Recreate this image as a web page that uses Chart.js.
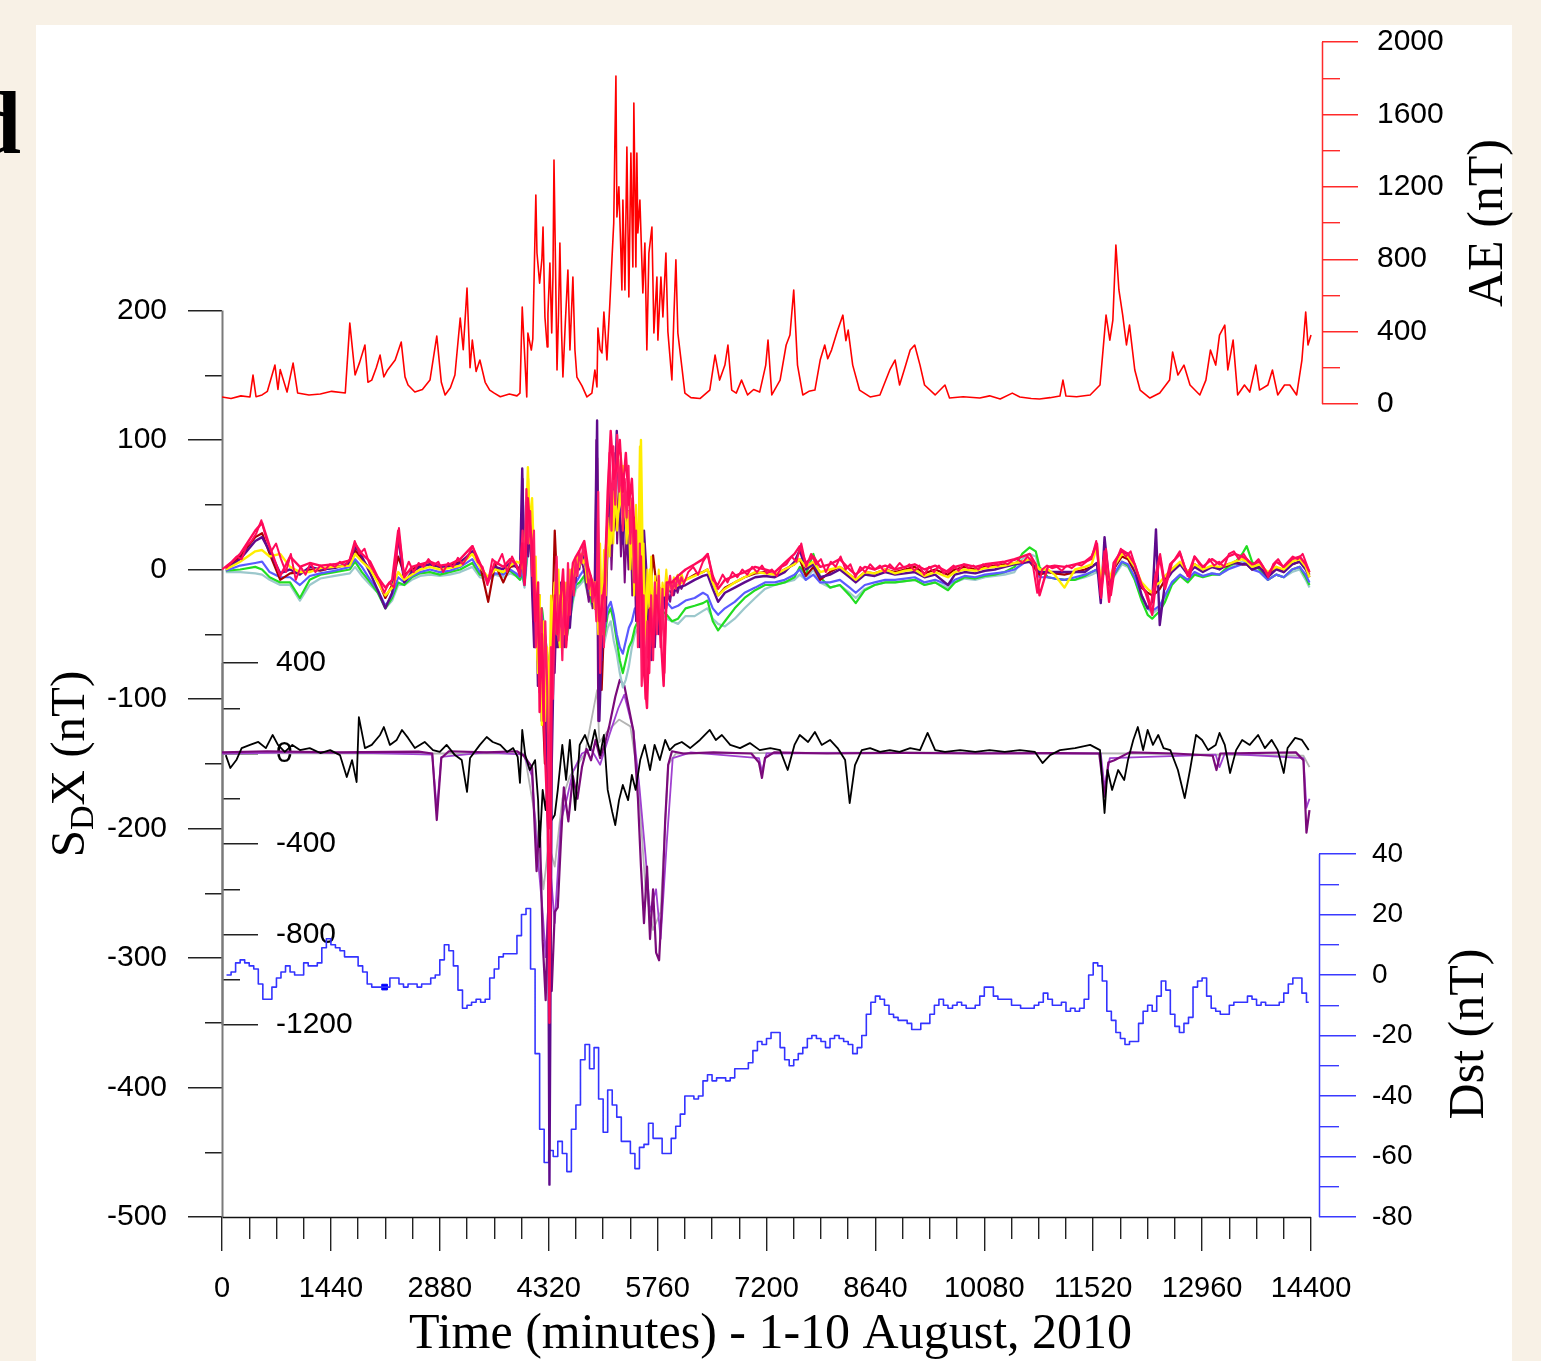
<!DOCTYPE html>
<html><head><meta charset="utf-8">
<script src="https://cdn.jsdelivr.net/npm/chart.js@4.4.1/dist/chart.umd.min.js"></script>
<style>html,body{margin:0;padding:0;background:#f8f1e6;}canvas{display:block;}</style>
</head><body>
<canvas id="c" width="1541" height="1361"></canvas>
<script>
// ---------------- tick labels ----------------
const timeTickLabels = [0,1440,2880,4320,5760,7200,8640,10080,11520,12960,14400];
const sdxTickLabels = [200,100,0,-100,-200,-300,-400,-500];
const lowTickLabels = [400,0,-400,-800,-1200];
const aeTickLabels = [0,400,800,1200,1600,2000];
const dstTickLabels = [40,20,0,-20,-40,-60,-80];

// ---------------- AE index (nT) ----------------
const aeTime = [0,120,250,370,410,450,530,600,700,740,770,860,940,1000,1150,1300,1450,1630,1690,1760,1820,1890,1930,1980,2040,2090,2140,2190,2290,2370,2420,2460,2550,2650,2750,2840,2900,2950,3020,3080,3150,3190,3240,3280,3310,3360,3410,3480,3540,3600,
3680,3800,3900,3940,3970,3990,4030,4045,4090,4110,4150,4165,4200,4230,4245,4270,4300,4310,4336,4360,4376,4390,4415,4430,4450,4468,4490,4508,4540,4574,4601,4640,4667,4693,4760,4825,4891,4931,4958,4971,5000,5024,5050,5090,5129,5156,5180,5195,5209,5222,5248,5270,5288,5301,5328,5354,5380,5407,5433,5446,5473,5486,5499,5526,5565,5592,5618,5645,5685,5711,5751,5764,5804,5830,5870,5896,5949,5975,6002,6028,6081,6121,6200,6320,
6450,6520,6580,6650,6690,6740,6800,6870,6950,7030,7110,7190,7220,7270,7380,7460,7510,7560,7610,7680,7760,7840,7910,7970,8010,8060,8140,8210,8250,8280,8340,8430,8570,8700,8830,8900,8960,9030,9100,9160,9230,9290,9430,9560,9620,9800,10020,10150,10290,10450,10550,10700,10810,10950,11080,11120,11160,11300,11480,11610,11650,11690,11740,11780,11820,11860,11910,11960,12000,12070,12140,12270,12400,12530,12570,12640,12720,12800,12930,13010,13070,13140,13190,13260,13300,13370,13430,13520,13590,13670,13720,13830,13890,13960,14050,14120,14210,14280,14330,14360,14400];
const aeValue = [39,30,45,39,160,40,50,70,215,80,190,66,226,61,50,55,70,61,447,160,230,326,120,132,200,270,150,188,243,342,150,105,66,80,132,375,120,50,90,160,475,300,640,200,353,180,243,120,77,60,
40,55,45,60,536,370,39,392,298,360,1155,834,668,800,978,481,315,500,779,392,700,1348,613,188,500,889,400,149,450,740,298,702,298,149,100,39,60,188,94,420,300,282,508,243,558,796,1000,1442,1812,1033,1200,900,630,1127,630,1420,591,1387,757,1663,757,1387,945,1127,613,889,298,834,978,392,702,353,702,481,834,400,133,480,796,392,204,60,35,30,
77,270,132,215,326,77,60,132,50,80,66,215,353,50,132,326,381,630,215,50,70,77,243,326,250,298,408,491,350,408,215,77,39,50,188,243,105,200,298,326,215,105,50,105,33,40,33,45,28,60,39,30,28,35,44,132,44,40,50,105,298,491,353,464,878,630,491,326,436,188,77,33,61,132,287,160,215,105,50,132,298,215,381,436,188,353,50,105,66,215,77,105,188,50,105,105,50,243,508,326,381];

// ---------------- Dst index (nT), hourly steps ----------------
const dstTime = [60,120,180,240,300,360,420,480,540,660,720,780,840,900,960,1080,1140,1260,1320,1380,1440,1500,1560,1620,1800,1860,1920,1980,2220,2340,2400,2460,2580,2640,2760,2820,2880,2940,3000,3060,3120,3180,3240,3300,3360,3420,3480,3540,3600,3660,3720,3900,3960,4020,4080,4140,4200,4260,4320,4380,4440,4500,4560,4620,4680,4740,4800,4860,4920,4980,5040,5100,5160,5220,5280,5400,5460,5520,5580,5640,5700,5820,5940,6000,6060,6120,6240,6300,6360,6420,6480,6540,6660,6720,6780,6960,7020,7080,7140,7200,7260,7380,7440,7500,7560,7620,7680,7740,7800,7860,7920,7980,8040,8100,8160,8220,8280,8340,8400,8460,8520,8580,8640,8700,8760,8820,8880,8940,9060,9120,9240,9360,9420,9480,9540,9600,9660,9720,9780,9840,9960,10020,10080,10200,10260,10440,10560,10740,10800,10860,10920,10980,11100,11160,11220,11280,11340,11400,11460,11520,11580,11640,11700,11760,11820,11880,11940,12000,12120,12180,12240,12300,12360,12420,12480,12540,12600,12660,12720,12780,12840,12900,12960,13020,13080,13140,13200,13320,13380,13560,13620,13680,13740,13800,13980,14040,14100,14160,14280,14340,14370];
const dstValue = [0,1,4,5,4,3,2,-3,-8,-4,-1,1,3,1,0,4,3,4,9,12,10,9,8,6,3,1,-3,-4,-1,-3,-4,-3,-4,-3,-1,0,5,10,8,3,-5,-11,-10,-9,-8,-9,-8,-1,2,6,7,13,20,22,2,-26,-51,-62,-58,-60,-55,-59,-65,-51,-43,-28,-23,-31,-24,-41,-52,-38,-43,-47,-55,-59,-64,-57,-56,-49,-54,-59,-54,-50,-46,-40,-41,-40,-35,-33,-35,-34,-35,-34,-31,-29,-25,-22,-23,-21,-19,-24,-28,-30,-28,-26,-24,-21,-20,-21,-22,-24,-21,-20,-21,-22,-23,-26,-24,-20,-13,-9,-7,-8,-10,-13,-14,-15,-16,-18,-16,-13,-10,-8,-10,-11,-10,-9,-10,-11,-10,-7,-4,-7,-8,-10,-11,-10,-9,-6,-8,-10,-9,-12,-11,-12,-11,-8,0,4,3,-2,-12,-15,-19,-21,-23,-22,-16,-12,-10,-12,-7,-2,-5,-13,-17,-19,-16,-14,-4,-2,-1,-7,-11,-12,-13,-10,-9,-7,-8,-10,-9,-10,-9,-6,-3,-1,-6,-9,-9];
const dstMarkTime = [2150];
const dstMarkValue = [-4];

// ---------------- SDX station traces (nT, left axis) ----------------
const sdxTime = [50,240,440,530,630,770,900,1030,1160,1300,1490,1690,1760,1850,1960,2060,2160,2250,2330,2410,2510,2620,2750,2880,3010,3150,3310,3410,3520,3610,3720,3810,3890,3940,3970,4000,4045,4070,4100,4140,4180,4200,4230,4270,4310,4330,4360,4400,4430,4470,4510,4550,4600,4640,4680,4730,4790,4840,4890,4930,4960,4990,5020,5060,5100,5140,5180,5220,5260,5300,5340,5380,5420,5460,5500,5540,5580,5620,5660,5700,5740,5790,5840,5880,5950,6030,6130,6250,6360,6420,6490,6560,6650,6780,6910,7050,7180,7310,7440,7570,7640,7720,7820,7910,8040,8170,8300,8380,8500,8630,8770,8900,9030,9160,9290,9430,9600,9690,9820,9960,10090,10220,10350,10480,10580,10680,10760,10810,10920,11010,11140,11280,11410,11500,11570,11620,11670,11730,11790,11900,11980,12070,12160,12240,12300,12350,12400,12470,12560,12670,12770,12860,12970,13090,13190,13300,13390,13490,13550,13620,13720,13830,13940,14040,14150,14250,14330,14380];
const sdxCrimson = [1,12,30,36,18,-5,10,2,5,3, 4,7,20,12,6,-6,-14,-8,30,-6, 2,4,6,3,4,8,18,5,-10,6, 2,8,4,-5,20,-12,55,35,20,-40, -10,-110,-50,-140,-200,-350,-80,-20,-50,-30, 0,-60,-20,5,10,15,22,2,-8,-20, -10,-40,-30,-10,60,107,70,80,100,60, 90,50,70,20,-40,10,-80,-107,-30,-60, -20,-40,-90,-10,-10,-5,0,4,8,12, -5,-15,-8,-5,-2,2,0,-2,5,12, 18,5,10,2,4,8,0,-4,2,0, 3,0,2,4,0,3,-2,2,4,2, 4,5,6,8,10,12,4,-20,2,3, 2,4,6,10,20,-20,14,-25,5,15, 12,4,-12,-20,-35,-10,10,-15,5,12, -5,10,2,8,4,10,12,10,8,4, 6,-4,6,2,8,10,4,-2];
const sdxYellow = [0,6,14,15,10,12,2,-2,-2,1, 2,3,12,6,0,-10,-20,-14,-2,-8, -4,0,2,0,1,3,12,2,-6,0, -2,3,6,5,10,-8,79,30,55,-20, -80,-20,-120,-60,-90,-130,-40,-10,-40,-60, -20,-40,-10,0,8,10,14,-5,-15,-10, -15,-30,-50,10,30,20,60,40,50,80, 40,65,20,30,-20,100,-60,-20,0,-30, -10,-15,-20,-8,-15,-12,-8,-5,-2,0, -10,-20,-15,-10,-6,-2,-3,-4,0,4, 8,2,6,-2,0,2,-4,-8,-2,-3, 0,-3,-1,0,-5,-2,-6,-2,0,-1, 1,2,3,5,6,8,4,0,0,-4, -14,0,2,4,18,-10,10,-8,2,12, 10,2,-10,-15,-18,-12,-10,-5,0,6, -2,4,0,3,2,4,6,8,6,2, 4,-2,2,0,6,8,2,-6];
const sdxPurple = [0,8,22,25,14,-3,0,-4,2,0, 1,5,18,10,-3,-16,-30,-18,25,-10, -2,2,4,2,2,5,14,3,-8,2, 0,5,2,-2,78,-10,40,25,10,-60, -30,-70,-40,-100,-200,-475,-150,-30,-60,-20, -55,-30,-45,-10,0,5,10,-12,-20,-30, 115,-117,-60,-20,40,50,30,107,40,20, 55,10,35,40,10,-20,30,-10,-40,-20, -30,-20,-30,-15,-18,-14,-12,-8,-5,-4, -15,-25,-18,-14,-10,-6,-5,-6,-2,6, 15,0,4,-6,-4,0,-6,-10,-4,-5, -2,-4,-3,-2,-6,-4,-12,-4,-2,-3, -1,0,2,4,5,6,2,-2,-2,-2, -2,-2,-2,2,5,-26,25,-10,0,14, 12,0,-20,-30,-25,31,-43,-10,-2,4, -4,2,-2,2,0,4,5,4,4,0, 2,-6,0,-2,4,6,0,-6];
const sdxDarkRed = [1,10,25,28,12,-8,-3,-2,0,-1, 2,4,15,8,0,-8,-22,-12,10,-4, 0,3,4,2,3,6,12,4,-25,4, -10,2,3,0,5,-6,45,30,15,-30, -60,-20,-90,-150,-120,-180,-60,30,-10,-40, -25,-45,-30,-8,2,8,12,-5,-10,-15, 86,-60,-93,-30,20,40,55,30,70,50, 35,45,25,10,-10,0,-30,-40,-20,11, -10,-15,-25,-10,-15,-12,-8,-4,-2,0, -10,-20,-14,-10,-6,-3,-2,-4,0,4, 8,-5,2,-8,-2,2,-4,-8,-2,-3, 0,-2,0,2,-3,0,-4,0,2,0, 2,3,4,5,6,6,0,-4,-2,-3, -4,-2,0,2,5,-15,5,-12,0,10, 8,-2,-14,-18,-20,-18,-15,-8,0,5, -2,4,0,2,1,3,6,4,4,0, 2,-4,2,-2,4,6,2,-4];
const sdxBlue = [-1,3,5,6,-2,-6,-6,-12,-5,-3, -1,2,8,2,-8,-16,-28,-20,-6,-10, -5,-2,0,-2,-1,2,8,-2,-8,-3, -4,0,-3,-6,0,-12,25,20,10,-25, -40,-50,-35,-60,-80,-100,-50,-20,-35,-45, -35,-50,-35,-20,-10,-5,0,-15,-22,-25, -30,-40,-55,-45,-30,-25,-35,-50,-60,-65, -55,-45,-40,-30,-35,-30,-25,-30,-25,-30, -28,-25,-30,-25,-30,-28,-24,-22,-18,-20, -30,-35,-30,-25,-18,-14,-10,-10,-8,-4, 0,-8,-4,-10,-10,-8,-14,-18,-12,-10, -8,-8,-7,-6,-10,-8,-12,-8,-5,-6, -4,-3,-2,0,4,8,2,-6,-6,-7, -8,-6,-4,-2,0,-8,2,-6,-4,6, 4,-6,-20,-30,-32,-30,-28,-20,-10,-4, -8,-2,-5,-3,-4,0,2,4,6,0, -2,-8,-4,-6,0,2,-4,-10];
const sdxGreen = [-1,0,2,0,-6,-10,-10,-22,-8,-4, -2,0,6,-2,-10,-18,-30,-22,-10,-12, -6,-3,-2,-4,-2,0,5,-4,-6,2, -3,-1,-5,-8,-3,-12,20,18,10,-22, -35,-40,-30,-50,-70,-90,-45,-15,-30,-40, -38,-55,-38,-22,-12,-10,-5,-18,-26,-28, -30,-40,-60,-50,-35,-30,-40,-55,-70,-80, -70,-60,-55,-45,-40,-35,-30,-30,-28,-35, -30,-28,-33,-35,-40,-38,-30,-28,-26,-24, -40,-47,-40,-30,-22,-16,-12,-12,-10,-6, 2,-4,12,-6,-14,-12,-20,-26,-16,-12, -10,-10,-9,-8,-12,-10,-16,-10,-6,-7, -5,-4,-2,2,12,17,14,2,-6,-7, -8,-8,-5,-2,0,-10,0,-8,-5,6, 3,-8,-24,-35,-38,-35,-32,-25,-12,-5, -10,-4,-6,-4,-4,2,5,12,18,6, 0,-8,-4,-6,0,2,-6,-12];
const sdxTeal = [-2,-2,-3,-4,-8,-12,-12,-24,-12,-7, -5,-3,2,-5,-12,-18,-30,-24,-12,-12, -8,-5,-4,-5,-4,-2,2,-6,-8,-4, -6,-3,-5,-8,-5,-14,15,15,8,-20, -30,-45,-30,-55,-70,-95,-50,-20,-35,-42, -40,-55,-40,-25,-15,-12,-8,-20,-28,-30, -32,-45,-65,-55,-45,-40,-55,-65,-80,-91, -85,-75,-60,-50,-45,-40,-35,-32,-30,-35, -32,-30,-35,-38,-40,-42,-36,-36,-32,-30, -38,-42,-44,-38,-30,-22,-15,-12,-10,-8, -4,-8,0,-10,-14,-12,-18,-22,-15,-12, -10,-10,-9,-8,-12,-10,-14,-10,-7,-8, -6,-5,-4,-2,8,12,10,0,-6,-7, -8,-8,-6,-4,-2,-8,-2,-8,-6,4, 2,-8,-22,-30,-34,-32,-30,-22,-10,-4, -8,-3,-5,-3,-4,0,4,6,8,2, -2,-8,-4,-6,-2,0,-8,-14];

// finer quiet-time detail of the uppermost station
const finePreTime = [0,65,130,195,260,325,390,455,520,585,650,715,780,845,910,975,1040,1105,1170,1235,1300,1365,1430,1495,1560,1625,1690,1755,1820,1885,1950,2015,2080,2145,2210,2275,2340,2405,2470,2535,2600,2665,2730,2795,2860,2925,2990,3055,3120,3185,3250,3315,3380,3445,3510,3575,3640,3705,3770,3835,3900];
const finePreValue = [0,3,6,10,8,18,22,28,38,24, 14,20,8,-2,12,-8,2,-4,5,-2, 3,0,4,2,6,3,8,22,12,16, 4,-2,-8,-18,-10,-14,32,-4,6,-2, 5,2,8,3,6,-2,5,2,9,4, 10,18,6,2,-12,8,4,12,-2,10, 2];
const finePostTime = [6100,6165,6230,6295,6360,6425,6490,6555,6620,6685,6750,6815,6880,6945,7010,7075,7140,7205,7270,7335,7400,7465,7530,7595,7660,7725,7790,7855,7920,7985,8050,8115,8180,8245,8310,8375,8440,8505,8570,8635,8700,8765,8830,8895,8960,9025,9090,9155,9220,9285,9350,9415,9480,9545,9610,9675,9740,9805,9870,9935,10000,10065,10130,10195,10260,10325,10390,10455,10520,10585,10650,10715,10780,10845,10910,10975,11040,11105,11170,11235,11300,11365,11430,11495,11560,11625,11690,11755,11820,11885,11950,12015,12080,12145,12210,12275,12340,12405,12470,12535,12600,12665,12730,12795,12860,12925,12990,13055,13120,13185,13250,13315,13380,13445,13510,13575,13640,13705,13770,13835,13900,13965,14030,14095,14160,14225,14290,14355,14380];
const finePostValue = [-12,-2,2,-4,6,12,-8,-12,-4,-10, -2,-6,0,-4,2,-2,3,-3,0,-5, 2,4,10,6,20,2,12,4,8,-2, 6,2,10,0,4,-6,2,-2,4,0, 3,-2,4,0,5,1,4,-1,3,-4, 2,-2,3,-3,0,3,-1,4,1,3, 0,4,2,5,3,6,4,7,8,5, 10,6,-18,0,3,1,2,-1,3,1, 4,3,6,8,22,-22,16,-20,6,16, 10,14,2,-10,-18,-30,-5,12,-12,4, 8,14,2,-6,10,4,2,8,3,6, 2,12,14,8,12,6,4,8,2,-6, 4,8,2,6,10,8,12,2, -2];

// storm-time detail of three more stations
const stormTime = [3950,3975,4000,4025,4050,4075,4100,4125,4150,4175,4200,4225,4250,4275,4300,4325,4350,4375,4400,4425,4450,4475,4500,4525,4550,4575,4600,4625,4650,4675,4700,4725,4750,4775,4800,4825,4850,4875,4900,4925,4950,4975,5000,5025,5050,5075,5100,5125,5150,5175,5200,5225,5250,5275,5300,5325,5350,5375,5400,5425,5450,5475,5500,5525,5550,5575,5600,5625,5650,5675,5700,5725,5750,5775,5800,5825,5850,5875,5900,5925,5950,5975,6000,6025,6050,6075,6100];
const stormCrimson = [5,30,-10,62,20,45,-5,30,-60,-20,-95,-30,-117,-40,-90,-200,-60,-100,-30,10,-55,-20,-70,-10,-45,5,-35,0,-20,8,-5,14,5,18,10,0,-15,-5,-25,-10,-40,60,-80,-20,-60,10,45,90,30,95,50,104,60,85,30,70,40,80,20,55,-10,30,-60,20,-90,-20,-100,-40,-80,-20,-70,-10,-50,-5,-60,-15,-80,-30,-15,-5,-20,-8,-15,-5,-12,-6,-10];
const stormYellow = [0,15,5,40,70,20,40,-10,10,-70,-20,-110,-40,-117,-60,-100,-20,-60,-10,-50,0,-40,-15,-50,-10,-30,0,-15,5,-5,10,2,12,5,8,-10,0,-20,-8,-30,-10,-50,20,-40,15,-20,40,10,60,20,70,30,50,90,35,60,20,45,0,30,-20,50,0,95,-30,20,-50,0,-30,10,-40,-5,-25,0,-30,-10,-20,0,-18,-8,-15,-6,-12,-4,-10,-3,-8];
const stormMagenta = [0,70,-5,30,10,35,-20,-60,-10,-90,-40,-117,-60,-100,-117,-150,-117,-50,-80,-30,-60,-10,-40,-60,-20,-45,-10,-25,0,-10,5,0,8,2,-5,-15,-25,-10,-30,-20,100,-117,-40,-70,0,-40,20,60,0,40,90,20,60,10,40,-10,30,0,45,-20,20,-40,10,-60,25,-80,0,-60,-20,-70,-30,-60,-20,-50,-25,-40,-20,-30,-18,-25,-15,-20,-14,-18,-12,-15,-12];

// ---------------- lower traces (nT, inner left axis) ----------------
const lowBlackTime = [50,110,190,260,370,480,580,670,740,830, 930,1030,1160,1300,1430,1560,1650,1720,1780,1810, 1890,1980,2090,2140,2220,2310,2380,2460,2550,2680, 2790,2880,2970,3080,3170,3240,3280,3410,3500,3580, 3680,3770,3850,3910,3940,3970,4010,4070,4140,4180, 4200,4240,4280,4320,4360,4400,4440,4500,4550,4600, 4670,4730,4800,4870,4930,5000,5050,5100,5160,5200, 5250,5300,5370,5420,5470,5530,5590,5660,5720,5790, 5860,5920,5990,6080,6190,6320,6450,6530,6610,6720, 6850,6980,7110,7250,7380,7480,7570,7640,7750,7840, 7930,8040,8140,8240,8300,8370,8460,8570,8700,8830, 8960,9100,9230,9330,9430,9560,9760,9960,10150,10350, 10550,10750,10850,10950,11080,11280,11480,11610,11670,11710, 11770,11850,11930,11980,12050,12110,12180,12240,12310,12380, 12450,12540,12640,12730,12800,12880,12960,13040,13140,13190, 13260,13330,13410,13490,13590,13700,13790,13880,13960,14040, 14090,14190,14280,14370];
const lowBlackValue = [-7,-64,-29,24,38,51,24,82,38,7, 38,15,24,2,15,-7,-104,-29,-126,161, 24,38,82,117,38,60,104,69,24,51, 15,7,38,-7,-29,-170,-20,38,73,51, 38,7,24,-15,-130,104,-7,-73,-29,-206, -413,-161,-250,-29,-294,-272,-161,38,-117,60, -250,38,82,15,104,-7,82,-161,-258,-316, -206,-139,-206,-95,-161,-29,38,-73,38,-29, 60,15,38,51,24,60,104,60,82,38, 24,46,15,24,15,-73,38,82,51,95, 38,60,24,-29,-219,-51,15,24,7,15, 7,24,15,91,15,7,15,7,15,7, 15,7,-42,-7,15,24,38,15,-263,-73, -161,-73,-117,-29,60,117,15,104,38,82, 24,15,-73,-197,-73,82,60,15,38,91, 38,-86,15,60,38,82,24,60,15,-86, 24,69,60,15];
const lowPurpleTime = [0,600,1500,2600,2780,2840,2900,3000,3500,3900, 3990,4100,4160,4200,4240,4280,4320,4360,4400,4440, 4480,4520,4580,4640,4700,4760,4820,4880,4940,5000, 5060,5120,5200,5260,5320,5380,5440,5500,5540,5580, 5620,5660,5700,5740,5780,5820,5860,5900,5950,6100, 6500,7000,7100,7140,7180,7300,8000,9000,10000,11000, 11600,11670,11720,11800,12000,12600,13100,13150,13200,14200, 14300,14340,14380];
const lowPurpleValue = [5,10,5,8,0,-294,-20,10,5,10, -10,-60,-520,-300,-825,-1090,-600,-1050,-700,-680, -400,-150,-300,-100,-200,-60,20,-30,60,-20, 40,120,250,325,300,200,100,-200,-500,-750, -500,-820,-600,-880,-914,-650,-300,-50,10,0, 5,0,-40,-108,-20,5,0,3,0,2, 0,-191,-40,-30,5,0,-10,-73,0,5, -30,-350,-250];
const lowVioletTime = [0,1000,2000,2780,2840,2900,3500,3990,4100,4160, 4240,4280,4340,4400,4480,4560,4640,4760,4880,5000, 5120,5240,5320,5440,5520,5600,5660,5740,5800,5880, 5960,6200,7100,7140,7200,8500,11620,11670,11740,13140, 13190,13260,14300,14340,14380];
const lowVioletValue = [0,5,2,-5,-250,-15,5,-5,-100,-400, -700,-900,-500,-750,-300,-200,-80,0,20,-50, 80,200,260,100,-150,-450,-700,-600,-820,-400, -20,5,-20,-80,0,3,0,-150,-20,-5, -60,0,-20,-240,-200];
const lowGrayTime = [0,2000,4000,4150,4250,4320,4400,4500,4600,4800,4960,4990,5100,5250,5400,5500,5600,5700,5800,5900,6000,9000,12000,14300,14380];
const lowGrayValue = [2,0,0,-300,-600,-400,-500,-200,-100,0,280,50,100,150,120,-100,-600,-780,-700,-50,0,5,0,-10,-60];

// ---------------- helpers ----------------
function pts(t, v) { const n = Math.min(t.length, v.length); const out = []; for (let i = 0; i < n; i++) out.push({x: t[i], y: v[i]}); return out; }
function tickList(a, b, step) { const r = []; for (let v = a; v <= b + 1e-9; v += step) r.push({value: Math.round(v * 1000) / 1000}); return r; }
function line(label, t, v, color, w, axis, extra) {
  return Object.assign({label, data: pts(t, v), borderColor: color, backgroundColor: color, borderWidth: w, pointRadius: 0, tension: 0, fill: false, yAxisID: axis, borderJoinStyle: 'round'}, extra || {});
}
const FONT = "'Liberation Sans', Arial, sans-serif";
const SERIF = "'Liberation Serif', 'Times New Roman', serif";
Chart.defaults.font.family = FONT;

function noPad(s) { s.paddingTop = 0; s.paddingBottom = 0; s.paddingLeft = 0; s.paddingRight = 0; }

const decor = {
  id: 'decor',
  afterLayout(chart) {
    chart.scales.yDst.right = chart.width;
  },
  beforeDraw(chart) {
    const ctx = chart.ctx;
    ctx.save();
    ctx.fillStyle = '#f8f1e6'; ctx.fillRect(0, 0, chart.width, chart.height);
    ctx.fillStyle = '#ffffff'; ctx.fillRect(36, 25, 1476, chart.height - 25);
    ctx.restore();
  },
  beforeDatasetsDraw(chart) {
    const ctx = chart.ctx, s = chart.scales;
    const seg = (x1, y1, x2, y2, c, w) => { ctx.beginPath(); ctx.strokeStyle = c; ctx.lineWidth = w; ctx.moveTo(x1, y1); ctx.lineTo(x2, y2); ctx.stroke(); };
    ctx.save();
    const x0 = Math.round(s.x.getPixelForValue(0)) + 0.5;
    seg(x0, s.ySDX.getPixelForValue(200), x0, s.ySDX.getPixelForValue(-500), '#7a7a7a', 2);
    seg(x0, s.yLow.getPixelForValue(400), x0, s.yLow.getPixelForValue(-1200), '#7a7a7a', 2);
    const yb = Math.round(s.ySDX.getPixelForValue(-500)) + 0.5;
    seg(x0, yb, s.x.getPixelForValue(14400), yb, '#111', 1.5);
    const xa = Math.round(s.yAE.left) + 0.5;
    seg(xa, s.yAE.getPixelForValue(2000), xa, s.yAE.getPixelForValue(0), '#ff2a2a', 1.5);
    const xd = Math.round(s.yDst.left) + 0.5;
    seg(xd, s.yDst.getPixelForValue(40), xd, s.yDst.getPixelForValue(-80), '#3a3aff', 1.5);
    ctx.restore();
  },
  afterDraw(chart) {
    const ctx = chart.ctx;
    ctx.save();
    ctx.fillStyle = '#000';
    ctx.textBaseline = 'alphabetic';
    ctx.font = 'bold 88px ' + SERIF;
    ctx.textAlign = 'left';
    ctx.fillText('d', -28, 153);
    const rot = (x, y, fn) => { ctx.save(); ctx.translate(x, y); ctx.rotate(-Math.PI / 2); fn(); ctx.restore(); };
    rot(1502, 223, () => { ctx.font = '50px ' + SERIF; ctx.textAlign = 'center'; ctx.fillText('AE (nT)', 0, 0); });
    rot(1483, 1034, () => { ctx.font = '50px ' + SERIF; ctx.textAlign = 'center'; ctx.fillText('Dst (nT)', 0, 0); });
    rot(84, 764, () => {
      ctx.textAlign = 'left';
      const big = '49px ' + SERIF, small = '34px ' + SERIF;
      ctx.font = big; const w1 = ctx.measureText('S').width; const w3 = ctx.measureText('X (nT)').width;
      ctx.font = small; const w2 = ctx.measureText('D').width;
      let x = -(w1 + w2 + w3) / 2;
      ctx.font = big; ctx.fillText('S', x, 0); x += w1;
      ctx.font = small; ctx.fillText('D', x, 9); x += w2;
      ctx.font = big; ctx.fillText('X (nT)', x, 0);
    });
    ctx.restore();
  }
};

const minorDash = (labels, pattern) => (ctx) => (ctx.tick && labels.indexOf(ctx.tick.value) !== -1) ? [] : pattern;

const datasets = [
  line('AE', aeTime, aeValue, '#ff0000', 1.6, 'yAE'),
  line('SDX station 1 (fine, before storm)', finePreTime, finePreValue, '#ff0a5a', 2, 'ySDX'),
  line('SDX station 1 (fine, after storm)', finePostTime, finePostValue, '#ff0a5a', 2, 'ySDX'),
  line('SDX station 1', sdxTime, sdxCrimson, '#ff0a5a', 2.4, 'ySDX'),
  line('SDX station 1b', stormTime, stormCrimson, '#ff1a66', 2.2, 'ySDX'),
  line('SDX station 2', sdxTime, sdxYellow, '#ffee00', 2.4, 'ySDX'),
  line('SDX station 2b', stormTime, stormYellow, '#ffe600', 2, 'ySDX'),
  line('SDX station 3', sdxTime, sdxPurple, '#5e0a8c', 2.4, 'ySDX'),
  line('SDX station 3b', stormTime, stormMagenta, '#7a0a80', 2, 'ySDX'),
  line('SDX station 4', sdxTime, sdxDarkRed, '#a80000', 2.2, 'ySDX'),
  line('SDX station 5', sdxTime, sdxBlue, '#5a5aff', 2.2, 'ySDX'),
  line('SDX station 6', sdxTime, sdxGreen, '#22dd22', 2.2, 'ySDX'),
  line('SDX station 7', sdxTime, sdxTeal, '#9cc8cc', 2.2, 'ySDX'),
  line('Lower black', lowBlackTime, lowBlackValue, '#000000', 1.8, 'yLow'),
  line('Lower purple', lowPurpleTime, lowPurpleValue, '#7a0a7a', 2.2, 'yLow'),
  line('Lower violet', lowVioletTime, lowVioletValue, '#a040d0', 1.8, 'yLow'),
  line('Lower gray', lowGrayTime, lowGrayValue, '#b4b4b4', 1.8, 'yLow'),
  line('Dst', dstTime, dstValue, '#3333ff', 1.6, 'yDst', {stepped: 'before'}),
  line('Dst mark', dstMarkTime, dstMarkValue, '#0000ff', 1, 'yDst', {showLine: false, pointRadius: 4, pointStyle: 'rect'})
];

new Chart(document.getElementById('c'), {
  type: 'line',
  data: {datasets},
  plugins: [decor],
  options: {
    responsive: false, animation: false, events: [],
    layout: {padding: {left: 0, right: 0, top: 42, bottom: 0}},
    plugins: {legend: {display: false}, tooltip: {enabled: false}},
    scales: {
      x: {
        type: 'linear', position: 'bottom', min: 0, max: 14505.8,
        afterFit: (s) => { s.height = 144; noPad(s); },
        afterBuildTicks: (s) => { s.ticks = tickList(0, 14400, 360); },
        ticks: {autoSkip: false, maxRotation: 0, color: '#000', padding: 21, font: {size: 29, family: FONT},
          callback: (v) => timeTickLabels.indexOf(v) !== -1 ? String(v) : ''},
        grid: {drawOnChartArea: false, drawTicks: true, tickLength: 34, tickColor: '#222', lineWidth: 1.4,
          tickBorderDash: minorDash(timeTickLabels, [22, 1000])},
        border: {display: false},
        title: {display: true, text: 'Time (minutes) - 1-10 August, 2010', color: '#000', font: {size: 50, family: SERIF}, padding: {top: 0, bottom: -4}}
      },
      ySDX: {
        type: 'linear', position: 'left', weight: 1, min: -500, max: 407.3,
        afterFit: (s) => { s.width = 222; noPad(s); },
        afterBuildTicks: (s) => { s.ticks = tickList(-500, 200, 50); },
        ticks: {autoSkip: false, color: '#000', padding: 21, font: {size: 30, family: FONT},
          callback: (v) => sdxTickLabels.indexOf(v) !== -1 ? String(v) : ''},
        grid: {drawOnChartArea: false, tickLength: 34, tickColor: '#222', lineWidth: 1.4,
          tickBorderDash: minorDash(sdxTickLabels, [0, 17, 17, 1000])},
        border: {display: false}
      },
      yLow: {
        type: 'linear', position: 'left', weight: 0, min: -2048.6, max: 3144.8,
        afterFit: (s) => { s.width = 0; noPad(s); },
        afterBuildTicks: (s) => { s.ticks = tickList(-1200, 400, 200); },
        ticks: {autoSkip: false, mirror: true, color: '#000', padding: 54, font: {size: 30, family: FONT},
          callback: (v) => lowTickLabels.indexOf(v) !== -1 ? String(v) : ''},
        grid: {drawOnChartArea: false, tickLength: -36, tickColor: '#222', lineWidth: 1.4,
          tickBorderDash: minorDash(lowTickLabels, [0, 18, 18, 1000])},
        border: {display: false}
      },
      yDst: {
        type: 'linear', position: 'right', weight: 0, min: -80, max: 308.4,
        afterFit: (s) => { s.width = 3; noPad(s); },
        afterBuildTicks: (s) => { s.ticks = tickList(-80, 40, 10); },
        ticks: {autoSkip: false, color: '#000', padding: 16, font: {size: 28, family: FONT},
          callback: (v) => dstTickLabels.indexOf(v) !== -1 ? String(v) : ''},
        grid: {drawOnChartArea: false, tickLength: 37, tickColor: '#3a3aff', lineWidth: 1.4,
          tickBorderDash: minorDash(dstTickLabels, [20, 1000])},
        border: {display: false}
      },
      yAE: {
        type: 'linear', position: 'right', weight: 1, min: -4491.7, max: 2000,
        afterFit: (s) => { s.width = 219; noPad(s); },
        afterBuildTicks: (s) => { s.ticks = tickList(0, 2000, 200); },
        ticks: {autoSkip: false, color: '#000', padding: 19, font: {size: 30, family: FONT},
          callback: (v) => aeTickLabels.indexOf(v) !== -1 ? String(v) : ''},
        grid: {drawOnChartArea: false, tickLength: 36, tickColor: '#ff2a2a', lineWidth: 1.4,
          tickBorderDash: minorDash(aeTickLabels, [18, 1000])},
        border: {display: false}
      }
    }
  }
});
</script>
</body></html>
